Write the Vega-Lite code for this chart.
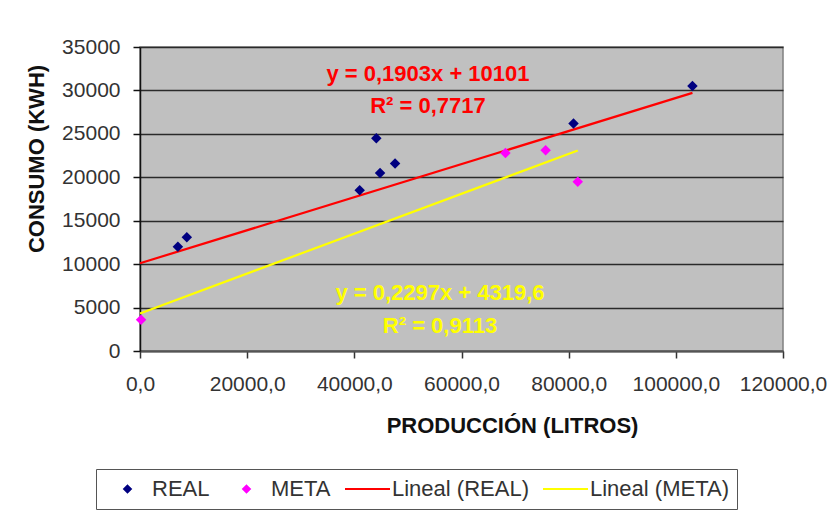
{
  "$schema": "https://vega.github.io/schema/vega-lite/v6.json",
  "width": 643,
  "height": 304,
  "autosize": {"type": "none"},
  "padding": {"left": 140, "top": 47, "right": 49, "bottom": 162},
  "background": "white",
  "config": {
    "font": "Liberation Sans",
    "view": {"fill": "#c0c0c0", "stroke": "#808080", "strokeWidth": 1.5}
  },
  "datasets": {
    "pts": [
      {"prod": 7070, "cons": 12000, "serie": "REAL"},
      {"prod": 8740, "cons": 13100, "serie": "REAL"},
      {"prod": 41000, "cons": 18500, "serie": "REAL"},
      {"prod": 44100, "cons": 24500, "serie": "REAL"},
      {"prod": 44800, "cons": 20500, "serie": "REAL"},
      {"prod": 47600, "cons": 21600, "serie": "REAL"},
      {"prod": 80900, "cons": 26200, "serie": "REAL"},
      {"prod": 103100, "cons": 30500, "serie": "REAL"},
      {"prod": 200, "cons": 3600, "serie": "META"},
      {"prod": 68200, "cons": 22800, "serie": "META"},
      {"prod": 75700, "cons": 23100, "serie": "META"},
      {"prod": 81700, "cons": 19500, "serie": "META"}
    ],
    "trend": [
      {"prod": 0, "cons": 10101, "serie": "Lineal (REAL)"},
      {"prod": 103100, "cons": 29721, "serie": "Lineal (REAL)"},
      {"prod": 0, "cons": 4320, "serie": "Lineal (META)"},
      {"prod": 81700, "cons": 23086, "serie": "Lineal (META)"}
    ]
  },
  "layer": [
    {
      "data": {"name": "trend"},
      "mark": {"type": "line", "strokeWidth": 2.2},
      "encoding": {
        "x": {
          "field": "prod", "type": "quantitative",
          "scale": {"domain": [0, 120000], "nice": false, "zero": false},
          "axis": {
            "values": [0, 20000, 40000, 60000, 80000, 100000, 120000],
            "labelExpr": "replace(format(datum.value, '.1f'), '.', ',')",
            "grid": false,
            "title": "PRODUCCIÓN (LITROS)",
            "titleX": 372, "titleY": 81,
            "titleBaseline": "alphabetic", "titleAlign": "center",
            "titleFontSize": 22, "titleFontWeight": "bold", "titleColor": "#111",
            "labelFontSize": 21, "labelColor": "#333", "labelPadding": 15,
            "labelFlush": false, "labelOverlap": false,
            "tickSize": 7, "tickColor": "#333", "tickWidth": 1.5,
            "domainColor": "#555", "domainWidth": 2
          }
        },
        "y": {
          "field": "cons", "type": "quantitative",
          "scale": {"domain": [0, 35000], "nice": false},
          "axis": {
            "values": [0, 5000, 10000, 15000, 20000, 25000, 30000, 35000],
            "format": "d",
            "grid": true,
            "gridColor": "#2a2a2a",
            "gridWidth": 1.6,
            "title": "CONSUMO (KWH)",
            "titleX": -97, "titleY": 111.5,
            "titleBaseline": "alphabetic", "titleAlign": "center",
            "titleFontSize": 22, "titleFontWeight": "bold", "titleColor": "#111",
            "labelFontSize": 21, "labelColor": "#333", "labelPadding": 13,
            "labelOverlap": false,
            "tickSize": 7, "tickColor": "#111", "tickWidth": 1.5,
            "domainColor": "#111", "domainWidth": 1.5
          }
        },
        "color": {
          "field": "serie", "type": "nominal",
          "scale": {
            "domain": ["REAL", "META", "Lineal (REAL)", "Lineal (META)"],
            "range": ["#000080", "#ff00ff", "#ff0000", "#ffff00"]
          },
          "legend": {
            "orient": "none", "legendX": -44, "legendY": 422,
            "direction": "horizontal", "columns": 4, "title": null,
            "labelFontSize": 22, "labelColor": "#333", "labelFont": "Liberation Sans",
            "symbolSize": 2025, "symbolStrokeWidth": 2, "symbolOpacity": 1,
            "clipHeight": 24,
            "labelOffset": 1, "columnPadding": 13,
            "padding": 8, "fillColor": "white", "strokeColor": "#555"
          }
        }
      }
    },
    {
      "data": {"name": "pts"},
      "mark": {"type": "point", "filled": true, "size": 4900, "opacity": 1},
      "encoding": {
        "x": {"field": "prod", "type": "quantitative"},
        "y": {"field": "cons", "type": "quantitative"},
        "color": {"field": "serie", "type": "nominal"},
        "shape": {
          "field": "serie", "type": "nominal",
          "scale": {
            "domain": ["REAL", "META", "Lineal (REAL)", "Lineal (META)"],
            "range": ["M0,-0.15L0.15,0L0,0.15L-0.15,0Z", "M0,-0.15L0.15,0L0,0.15L-0.15,0Z", "M-1,0L1,0", "M-1,0L1,0"]
          },
          "legend": {
            "orient": "none", "legendX": -44, "legendY": 422,
            "direction": "horizontal", "columns": 4, "title": null,
            "labelFontSize": 22, "labelColor": "#333", "labelFont": "Liberation Sans",
            "symbolSize": 2025, "symbolStrokeWidth": 2, "symbolOpacity": 1,
            "clipHeight": 24,
            "labelOffset": 1, "columnPadding": 13,
            "padding": 8, "fillColor": "white", "strokeColor": "#555"
          }
        }
      }
    },
    {
      "data": {"values": [{"eq": ["y = 0,1903x + 10101", "R² = 0,7717"]}]},
      "mark": {"type": "text", "fontSize": 22, "fontWeight": "bold", "color": "#ff0000", "align": "center", "baseline": "middle", "lineHeight": 32},
      "encoding": {
        "text": {"field": "eq"},
        "x": {"datum": 53749, "type": "quantitative"},
        "y": {"datum": 31891, "type": "quantitative"}
      }
    },
    {
      "data": {"values": [{"eq": ["y = 0,2297x + 4319,6", "R² = 0,9113"]}]},
      "mark": {"type": "text", "fontSize": 22, "fontWeight": "bold", "color": "#ffff00", "align": "center", "baseline": "middle", "lineHeight": 33},
      "encoding": {
        "text": {"field": "eq"},
        "x": {"datum": 55989, "type": "quantitative"},
        "y": {"datum": 6677, "type": "quantitative"}
      }
    }
  ]
}
